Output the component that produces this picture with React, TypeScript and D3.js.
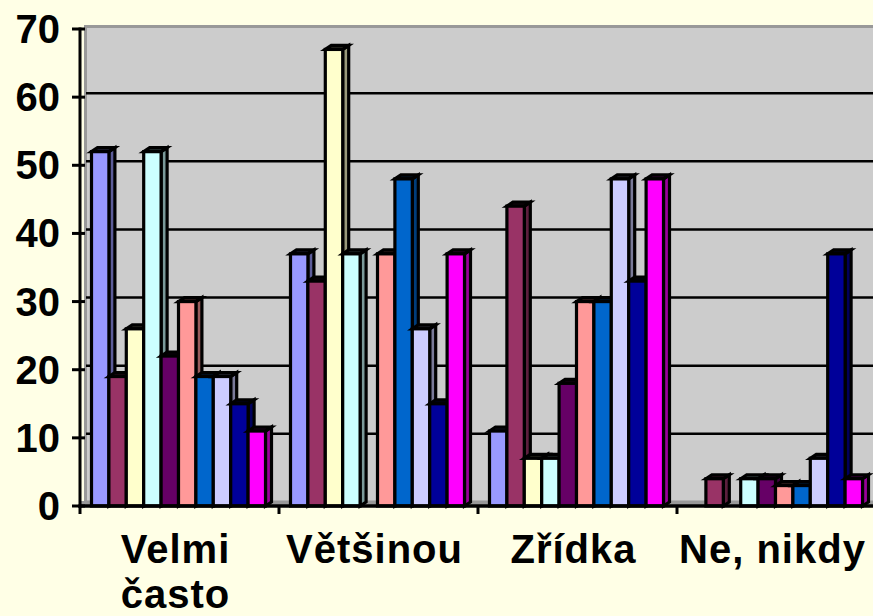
import * as d3 from 'd3';
import React, { useEffect, useRef } from 'react';

const categories = ['Velmi často', 'Většinou', 'Zřídka', 'Ne, nikdy'];
const seriesColors = ['#9999FF', '#993366', '#FFFFCC', '#CCFFFF', '#660066', '#FF9999', '#0066CC', '#CCCCFF', '#000099', '#FF00FF'];

// one array per series, values for the 4 categories
const series1 = [52, 37, 11, 0];
const series2 = [19, 33, 44, 4];
const series3 = [26, 67, 7, 0];
const series4 = [52, 37, 7, 4];
const series5 = [22, 0, 18, 4];
const series6 = [30, 37, 30, 3];
const series7 = [19, 48, 30, 3];
const series8 = [19, 26, 48, 7];
const series9 = [15, 15, 33, 37];
const series10 = [11, 37, 48, 4];
const seriesValues = [series1, series2, series3, series4, series5, series6, series7, series8, series9, series10];

const yTicks = [0, 10, 20, 30, 40, 50, 60, 70];

const W = 873, H = 616;
const FONT = '"Liberation Sans", Arial, sans-serif';

const shade = (c: string, k: number) => {
  const r = d3.rgb(c);
  return d3.rgb(r.r * k, r.g * k, r.b * k).formatHex();
};

const App = () => {
  const ref = useRef<SVGSVGElement>(null);

  useEffect(() => {
    const svg = d3.select(ref.current);
    svg.selectAll('*').remove();

    const base = 506;
    const dx = 6, dy = 4;
    const y = d3.scaleLinear().domain([0, 70]).range([base, 29]);
    const x0 = d3.scaleBand().domain(categories).range([80, 876]);
    const x1 = d3.scaleBand().domain(d3.range(seriesValues.length).map(String)).range([11.5, 185.5]);
    const bw = x1.bandwidth();

    svg.append('rect').attr('width', W).attr('height', H).attr('fill', '#FFFFE6');

    // back wall
    svg.append('rect')
      .attr('x', 85.5).attr('y', 26.5)
      .attr('width', 820).attr('height', base - 4 - 26.5)
      .attr('fill', '#CCCCCC').attr('stroke', '#999999').attr('stroke-width', 3);

    // floor
    svg.append('rect')
      .attr('x', 80).attr('y', base - 5)
      .attr('width', 800).attr('height', 5)
      .attr('fill', '#999999');

    // gridlines on the wall
    svg.append('g').selectAll('line')
      .data(yTicks.filter(t => t > 0 && t < 70))
      .enter().append('line')
      .attr('x1', 86).attr('x2', W)
      .attr('y1', d => y(d) - dy).attr('y2', d => y(d) - dy)
      .attr('stroke', '#000').attr('stroke-width', 2.5);

    // y ticks + axis
    svg.append('g').selectAll('line')
      .data(yTicks)
      .enter().append('line')
      .attr('x1', 72).attr('x2', 85)
      .attr('y1', d => y(d)).attr('y2', d => y(d))
      .attr('stroke', '#000').attr('stroke-width', 3);
    svg.append('line')
      .attr('x1', 80).attr('x2', 80)
      .attr('y1', y(70) - 1.5).attr('y2', base + 2)
      .attr('stroke', '#000').attr('stroke-width', 3);

    svg.append('g').selectAll('text')
      .data(yTicks)
      .enter().append('text')
      .attr('x', 60).attr('y', d => y(d) + 14)
      .attr('text-anchor', 'end')
      .style('font-family', FONT).style('font-weight', 'bold').style('font-size', '40px')
      .text(d => d);

    // bars
    const bars = svg.append('g');
    categories.forEach((cat, ci) => {
      seriesValues.forEach((vals, si) => {
        const v = vals[ci];
        if (v <= 0) return;
        const xf = (x0(cat) as number) + (x1(String(si)) as number);
        const top = y(v);
        const col = seriesColors[si];
        const g = bars.append('g').attr('stroke', '#000').attr('stroke-width', 3.2);
        g.append('polygon')
          .attr('points', [[xf + bw, top], [xf + bw + dx, top - dy], [xf + bw + dx, base - dy], [xf + bw, base]].map(p => p.join(',')).join(' '))
          .attr('fill', shade(col, 0.6));
        g.append('polygon')
          .attr('points', [[xf, top], [xf + dx, top - dy], [xf + bw + dx, top - dy], [xf + bw, top]].map(p => p.join(',')).join(' '))
          .attr('fill', shade(col, 0.2));
        g.append('rect')
          .attr('x', xf).attr('y', top)
          .attr('width', bw).attr('height', base - top)
          .attr('fill', col);
      });
    });

    // x axis
    svg.append('line')
      .attr('x1', 78.5).attr('x2', W)
      .attr('y1', base).attr('y2', base)
      .attr('stroke', '#000').attr('stroke-width', 3.5);
    svg.append('g').selectAll('line')
      .data(categories)
      .enter().append('line')
      .attr('x1', d => x0(d) as number).attr('x2', d => x0(d) as number)
      .attr('y1', base).attr('y2', 514)
      .attr('stroke', '#000').attr('stroke-width', 3);

    // category labels, wrapped to the band width
    const labels = svg.append('g').selectAll('text')
      .data(categories)
      .enter().append('text')
      .attr('x', d => (x0(d) as number) + x0.bandwidth() / 2 - 4)
      .attr('y', 563)
      .attr('text-anchor', 'middle')
      .style('font-family', FONT).style('font-weight', 'bold').style('font-size', '40px')
      .style('letter-spacing', '1px');

    labels.each(function (d) {
      const text = d3.select(this);
      const cx = text.attr('x');
      const words = d.split(' ');
      let line: string[] = [];
      let tspan = text.append('tspan').attr('x', cx).attr('dy', 0);
      words.forEach(w => {
        line.push(w);
        tspan.text(line.join(' '));
        if ((tspan.node() as SVGTSpanElement).getComputedTextLength() > x0.bandwidth() - 4 && line.length > 1) {
          line.pop();
          tspan.text(line.join(' '));
          line = [w];
          tspan = text.append('tspan').attr('x', cx).attr('dy', 45).text(w);
        }
      });
    });
  }, []);

  return (
    <div style={{ position: 'absolute', left: 0, top: 0 }}>
      <svg ref={ref} width={W} height={H} style={{ display: 'block' }} />
    </div>
  );
};

export default App;
